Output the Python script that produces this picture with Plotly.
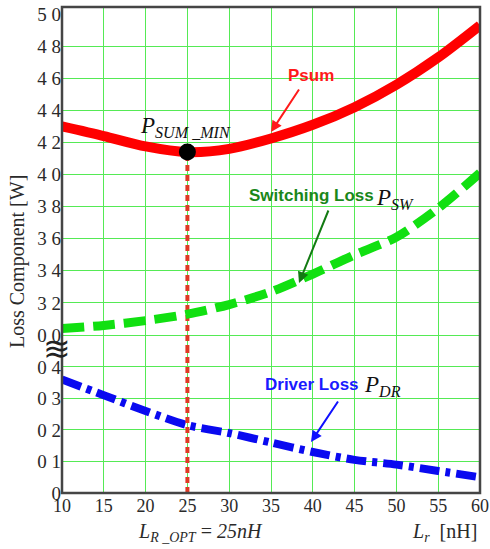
import plotly.graph_objects as go

# Inductance values [nH]
lr = [10, 15, 20, 25, 30, 35, 40, 45, 50, 55, 60]

# Loss components
p_sum = [4.30, 4.24, 4.175, 4.14, 4.16, 4.225, 4.31, 4.42, 4.56, 4.73, 4.93]
p_sw = [3.04, 3.06, 3.09, 3.13, 3.19, 3.27, 3.38, 3.50, 3.61, 3.79, 4.01]
p_dr = [0.36, 0.31, 0.26, 0.215, 0.19, 0.16, 0.13, 0.105, 0.09, 0.07, 0.05]

# Optimum inductance
lr_opt = 25
i_opt = lr.index(lr_opt)

# Axis ticks (upper and lower part of the broken axis)
x_ticks = [10, 15, 20, 25, 30, 35, 40, 45, 50, 55, 60]
y_low_ticks = [0, 0.1, 0.2, 0.3, 0.4]
y_low_text = ["0", "0 1", "0 2", "0 3", "0 4"]
y_up_ticks = [3.0, 3.2, 3.4, 3.6, 3.8, 4.0, 4.2, 4.4, 4.6, 4.8, 5.0]
y_up_text = ["0 0", "3 2", "3 4", "3 6", "3 8", "4 0", "4 2", "4 4", "4 6", "4 8", "5 0"]

GRID = "#55ea55"
SERIF = "Liberation Serif, Times New Roman, serif"
SANS = "Liberation Sans, Arial, sans-serif"
TXT = "#2a2a2a"

L_MARGIN, R_MARGIN, T_MARGIN, B_MARGIN = 62, 10, 7, 56
FIG_W, FIG_H = 490, 549

fig = go.Figure()

# Driver loss on the lower axis
fig.add_trace(go.Scatter(
    x=lr, y=p_dr, xaxis="x", yaxis="y", mode="lines",
    line=dict(color="#0a0af0", width=8, dash="20px,6px,5px,6px", shape="spline", smoothing=0.8),
))
# Vertical marker at the optimum, lower part
fig.add_trace(go.Scatter(
    x=[lr_opt, lr_opt], y=[0, 0.45], xaxis="x", yaxis="y", mode="lines",
    line=dict(color="#e03a26", width=4, dash="6px,4px"),
))
# Vertical marker at the optimum, upper part
fig.add_trace(go.Scatter(
    x=[lr_opt, lr_opt], y=[2.9, p_sum[i_opt]], xaxis="x2", yaxis="y2", mode="lines",
    line=dict(color="#e03a26", width=4, dash="6px,4px"),
))
# Switching loss
fig.add_trace(go.Scatter(
    x=lr, y=p_sw, xaxis="x2", yaxis="y2", mode="lines",
    line=dict(color="#11e011", width=9, dash="22px,9px", shape="spline", smoothing=0.8),
))
# Total loss
fig.add_trace(go.Scatter(
    x=lr, y=p_sum, xaxis="x2", yaxis="y2", mode="lines",
    line=dict(color="#ff0000", width=10, shape="spline", smoothing=0.8),
))
# Minimum point
fig.add_trace(go.Scatter(
    x=[lr_opt], y=[p_sum[i_opt]], xaxis="x2", yaxis="y2", mode="markers",
    marker=dict(color="black", size=17),
))

split = 0.292
common_x = dict(range=[10, 60], showgrid=False, zeroline=False, showline=False, ticks="",
                automargin=False,
                minor=dict(tickvals=x_ticks[1:-1], showgrid=True, gridcolor=GRID, gridwidth=1, ticks=""))

fig.update_layout(
    width=FIG_W, height=FIG_H,
    margin=dict(l=L_MARGIN, r=R_MARGIN, t=T_MARGIN, b=B_MARGIN),
    paper_bgcolor="white", plot_bgcolor="white",
    showlegend=False,
    xaxis=dict(common_x, domain=[0, 1], anchor="y", tickmode="array", tickvals=x_ticks,
               ticklabeloverflow="allow",
               tickfont=dict(family=SERIF, size=18, color=TXT)),
    xaxis2=dict(common_x, domain=[0, 1], anchor="y2", matches="x", showticklabels=False),
    yaxis=dict(domain=[0, split], range=[0, 0.45], tickmode="array", automargin=False,
               tickvals=y_low_ticks, ticktext=y_low_text, showgrid=False, zeroline=False,
               showline=False, ticks="", tickfont=dict(family=SERIF, size=19, color=TXT),
               minor=dict(tickvals=y_low_ticks[1:], showgrid=True, gridcolor=GRID, gridwidth=1, ticks="")),
    yaxis2=dict(domain=[split, 1], range=[2.9, 5.044], tickmode="array", automargin=False,
                tickvals=y_up_ticks, ticktext=y_up_text, showgrid=False, zeroline=False,
                showline=False, ticks="", tickfont=dict(family=SERIF, size=19, color=TXT),
                minor=dict(tickvals=y_up_ticks[:-1], showgrid=True, gridcolor=GRID, gridwidth=1, ticks="")),
)

# Plot frame
fig.add_shape(type="rect", xref="paper", yref="paper", x0=0, y0=0, x1=1, y1=1,
              line=dict(color="#454545", width=2.5), layer="above")

W = float(FIG_W - L_MARGIN - R_MARGIN)
H = float(FIG_H - T_MARGIN - B_MARGIN)


def px(xp, yp):
    """Convert pixel offsets on the page to paper coordinates."""
    return (xp - L_MARGIN) / W, (FIG_H - B_MARGIN - yp) / H


ann = []

# Axis break symbol
bx, by = px(57, 348)
ann.append(dict(x=bx, y=by, text="≋", showarrow=False, font=dict(size=33, color="#222",
           family="DejaVu Sans"), xanchor="center", yanchor="middle"))

# Y-axis title
tx, ty = px(17, 262)
ann.append(dict(x=tx, y=ty, text="Loss Component [W]", textangle=-90, showarrow=False,
                font=dict(family=SERIF, size=20, color=TXT), xanchor="center", yanchor="middle"))

# X-axis notes
tx, ty = px(200, 532)
ann.append(dict(x=tx, y=ty, text="<i>L<sub>R _OPT</sub></i> = <i>25nH</i>", showarrow=False,
                font=dict(family=SERIF, size=20, color=TXT), xanchor="center", yanchor="middle"))
tx, ty = px(444, 532)
ann.append(dict(x=tx, y=ty, text="<i>L<sub>r</sub></i>  [nH]", showarrow=False,
                font=dict(family=SERIF, size=20, color=TXT), xanchor="center", yanchor="middle"))

# Series labels
tx, ty = px(311, 75)
ann.append(dict(x=tx, y=ty, text="<b>Psum</b>", showarrow=False,
                font=dict(family=SANS, size=17, color="#ff1a1a"), xanchor="center", yanchor="middle"))
tx, ty = px(185, 127)
ann.append(dict(x=tx, y=ty, text="<i>P<sub>SUM _MIN</sub></i>", showarrow=False,
                font=dict(family=SERIF, size=23, color="#111"), xanchor="center", yanchor="middle"))
tx, ty = px(311, 196)
ann.append(dict(x=tx, y=ty, text="<b>Switching Loss</b>", showarrow=False,
                font=dict(family=SANS, size=17, color="#1a871a"), xanchor="center", yanchor="middle"))
tx, ty = px(395, 199)
ann.append(dict(x=tx, y=ty, text="<i>P<sub>SW</sub></i>", showarrow=False,
                font=dict(family=SERIF, size=23, color="#111"), xanchor="center", yanchor="middle"))
tx, ty = px(312, 384)
ann.append(dict(x=tx, y=ty, text="<b>Driver Loss</b>", showarrow=False,
                font=dict(family=SANS, size=17, color="#1a1aff"), xanchor="center", yanchor="middle"))
tx, ty = px(382, 386)
ann.append(dict(x=tx, y=ty, text="<i>P<sub>DR</sub></i>", showarrow=False,
                font=dict(family=SERIF, size=23, color="#111"), xanchor="center", yanchor="middle"))

# Pointer arrows
for (hx, hy, tlx, tly, col) in [(271, 132, 300, 88, "#ff1a1a"),
                                (299, 283, 329, 209, "#137a13"),
                                (311, 442, 339, 400, "#1010ff")]:
    ax_, ay_ = px(hx, hy)
    ann.append(dict(x=ax_, y=ay_, text="", showarrow=True,
                    ax=tlx - hx, ay=tly - hy, arrowhead=2, arrowsize=1.1, arrowwidth=2,
                    arrowcolor=col))

for a in ann:
    a.setdefault("xref", "paper")
    a.setdefault("yref", "paper")
fig.update_layout(annotations=ann)

fig.write_html("out.html")
